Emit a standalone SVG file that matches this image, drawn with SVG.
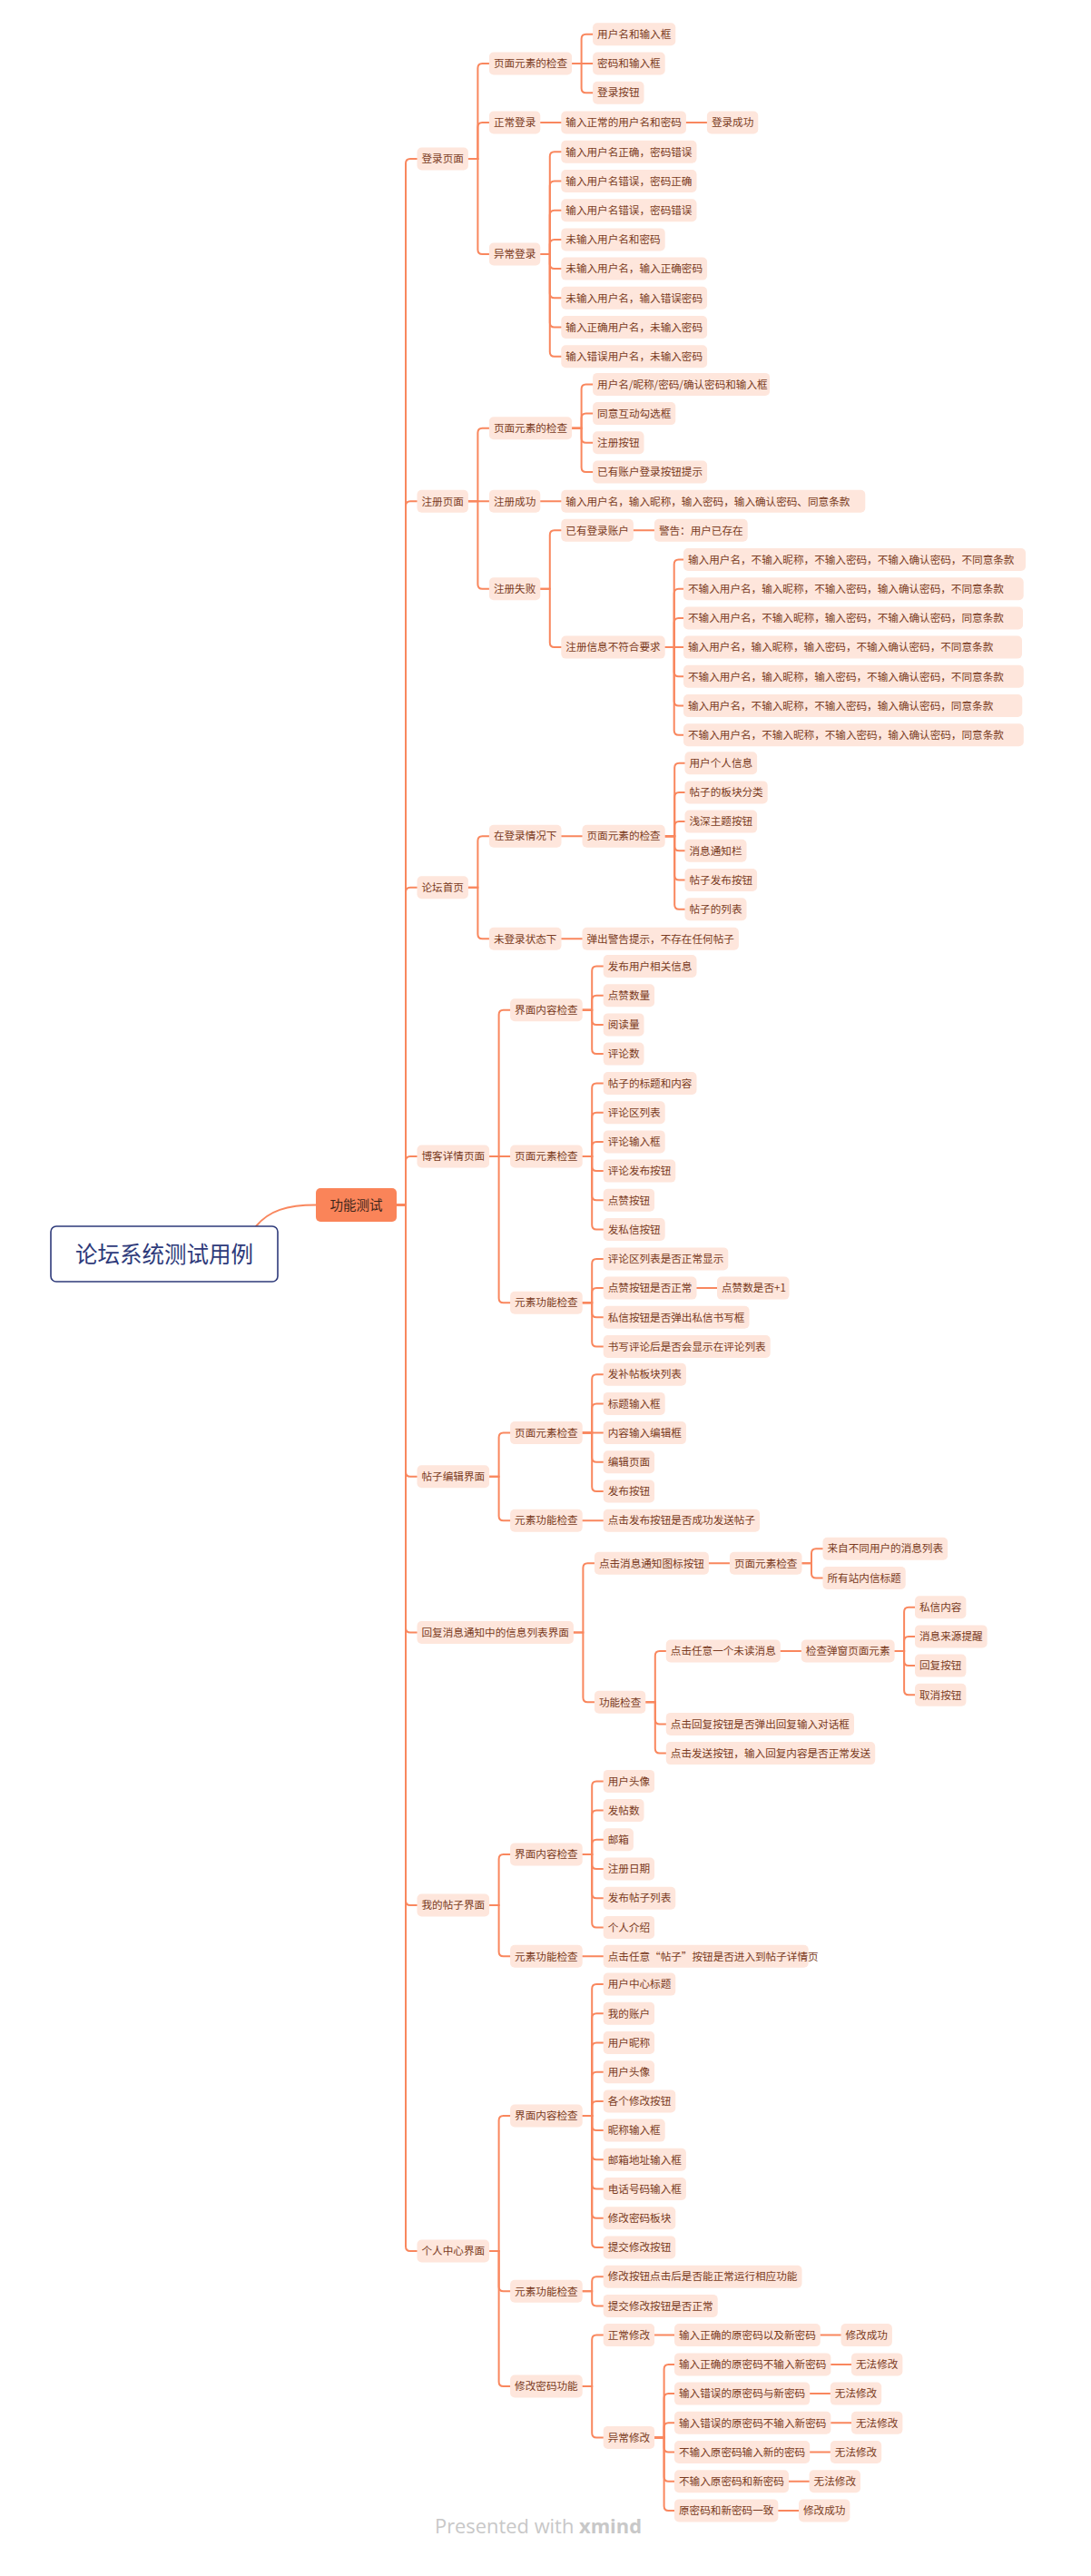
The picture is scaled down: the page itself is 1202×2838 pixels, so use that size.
<svg xmlns="http://www.w3.org/2000/svg" width="1202" height="2838" viewBox="0 0 1202 2838">
<style>
.b{fill:#fee6dc}
.t{font-family:"Noto Sans CJK SC","Noto Sans CJK JP",sans-serif;font-size:11.6px;fill:#7a3b22}
.c path{fill:none;stroke:#f9875e;stroke-width:2;stroke-linecap:round}
</style>
<rect width="1202" height="2838" fill="#ffffff"/>
<g class="c" id="connectors">
<path d="M282 1351C296 1334 316 1327.5 348 1327.5"/>
<path d="M437 1327.5H447V180Q447 175 452 175H459.5"/>
<path d="M437 1327.5H447V557.3Q447 552.3 452 552.3H459.5"/>
<path d="M437 1327.5H447V982.7Q447 977.7 452 977.7H459.5"/>
<path d="M437 1327.5H447V1279Q447 1274 452 1274H459.5"/>
<path d="M437 1327.5H447V1621.7Q447 1626.7 452 1626.7H459.5"/>
<path d="M437 1327.5H447V1793.5Q447 1798.5 452 1798.5H459.5"/>
<path d="M437 1327.5H447V2094Q447 2099 452 2099H459.5"/>
<path d="M437 1327.5H447V2475Q447 2480 452 2480H459.5"/>
<path d="M515.9 175H526.4V75Q526.4 70 531.4 70H538.9"/>
<path d="M515.9 175H526.4V140Q526.4 135 531.4 135H538.9"/>
<path d="M515.9 175H526.4V275Q526.4 280 531.4 280H538.9"/>
<path d="M630.1 70H640.6V42.8Q640.6 37.8 645.6 37.8H653.1"/>
<path d="M630.1 70H653.1"/>
<path d="M630.1 70H640.6V97.2Q640.6 102.2 645.6 102.2H653.1"/>
<path d="M595.3 135H618.3"/>
<path d="M755.9 135H778.9"/>
<path d="M595.3 280H605.8V172.3Q605.8 167.3 610.8 167.3H618.3"/>
<path d="M595.3 280H605.8V204.5Q605.8 199.5 610.8 199.5H618.3"/>
<path d="M595.3 280H605.8V236.7Q605.8 231.7 610.8 231.7H618.3"/>
<path d="M595.3 280H605.8V268.9Q605.8 263.9 610.8 263.9H618.3"/>
<path d="M595.3 280H605.8V291.1Q605.8 296.1 610.8 296.1H618.3"/>
<path d="M595.3 280H605.8V323.3Q605.8 328.3 610.8 328.3H618.3"/>
<path d="M595.3 280H605.8V355.5Q605.8 360.5 610.8 360.5H618.3"/>
<path d="M595.3 280H605.8V387.7Q605.8 392.7 610.8 392.7H618.3"/>
<path d="M515.9 552.3H526.4V476.7Q526.4 471.7 531.4 471.7H538.9"/>
<path d="M515.9 552.3H538.9"/>
<path d="M515.9 552.3H526.4V643.7Q526.4 648.7 531.4 648.7H538.9"/>
<path d="M630.1 471.7H640.6V428.4Q640.6 423.4 645.6 423.4H653.1"/>
<path d="M630.1 471.7H640.6V460.6Q640.6 455.6 645.6 455.6H653.1"/>
<path d="M630.1 471.7H640.6V482.8Q640.6 487.8 645.6 487.8H653.1"/>
<path d="M630.1 471.7H640.6V515Q640.6 520 645.6 520H653.1"/>
<path d="M595.3 552.3H618.3"/>
<path d="M595.3 648.7H605.8V589.3Q605.8 584.3 610.8 584.3H618.3"/>
<path d="M595.3 648.7H605.8V708.1Q605.8 713.1 610.8 713.1H618.3"/>
<path d="M697.9 584.3H720.9"/>
<path d="M732.7 713.1H742.7V621.5Q742.7 616.5 747.7 616.5H753"/>
<path d="M732.7 713.1H742.7V653.7Q742.7 648.7 747.7 648.7H753"/>
<path d="M732.7 713.1H742.7V685.9Q742.7 680.9 747.7 680.9H753"/>
<path d="M732.7 713.1H753"/>
<path d="M732.7 713.1H742.7V740.3Q742.7 745.3 747.7 745.3H753"/>
<path d="M732.7 713.1H742.7V772.5Q742.7 777.5 747.7 777.5H753"/>
<path d="M732.7 713.1H742.7V804.7Q742.7 809.7 747.7 809.7H753"/>
<path d="M515.9 977.7H526.4V926.2Q526.4 921.2 531.4 921.2H538.9"/>
<path d="M515.9 977.7H526.4V1029.3Q526.4 1034.3 531.4 1034.3H538.9"/>
<path d="M618.5 921.2H641.5"/>
<path d="M732.7 921.2H743.2V845.7Q743.2 840.7 748.2 840.7H754.5"/>
<path d="M732.7 921.2H743.2V877.9Q743.2 872.9 748.2 872.9H754.5"/>
<path d="M732.7 921.2H743.2V910.1Q743.2 905.1 748.2 905.1H754.5"/>
<path d="M732.7 921.2H743.2V932.3Q743.2 937.3 748.2 937.3H754.5"/>
<path d="M732.7 921.2H743.2V964.5Q743.2 969.5 748.2 969.5H754.5"/>
<path d="M732.7 921.2H743.2V996.7Q743.2 1001.7 748.2 1001.7H754.5"/>
<path d="M618.5 1034.3H641.5"/>
<path d="M539.1 1274H549.6V1117.8Q549.6 1112.8 554.6 1112.8H562.1"/>
<path d="M539.1 1274H562.1"/>
<path d="M539.1 1274H549.6V1430.2Q549.6 1435.2 554.6 1435.2H562.1"/>
<path d="M641.7 1112.8H652.2V1069.5Q652.2 1064.5 657.2 1064.5H664.7"/>
<path d="M641.7 1112.8H652.2V1101.7Q652.2 1096.7 657.2 1096.7H664.7"/>
<path d="M641.7 1112.8H652.2V1123.9Q652.2 1128.9 657.2 1128.9H664.7"/>
<path d="M641.7 1112.8H652.2V1156.1Q652.2 1161.1 657.2 1161.1H664.7"/>
<path d="M641.7 1274H652.2V1198.5Q652.2 1193.5 657.2 1193.5H664.7"/>
<path d="M641.7 1274H652.2V1230.7Q652.2 1225.7 657.2 1225.7H664.7"/>
<path d="M641.7 1274H652.2V1262.9Q652.2 1257.9 657.2 1257.9H664.7"/>
<path d="M641.7 1274H652.2V1285.1Q652.2 1290.1 657.2 1290.1H664.7"/>
<path d="M641.7 1274H652.2V1317.3Q652.2 1322.3 657.2 1322.3H664.7"/>
<path d="M641.7 1274H652.2V1349.5Q652.2 1354.5 657.2 1354.5H664.7"/>
<path d="M641.7 1435.2H652.2V1391.9Q652.2 1386.9 657.2 1386.9H664.7"/>
<path d="M641.7 1435.2H652.2V1424.1Q652.2 1419.1 657.2 1419.1H664.7"/>
<path d="M641.7 1435.2H652.2V1446.3Q652.2 1451.3 657.2 1451.3H664.7"/>
<path d="M641.7 1435.2H652.2V1478.5Q652.2 1483.5 657.2 1483.5H664.7"/>
<path d="M767.5 1419.1H790"/>
<path d="M539.1 1626.7H549.6V1583.6Q549.6 1578.6 554.6 1578.6H562.1"/>
<path d="M539.1 1626.7H549.6V1670.2Q549.6 1675.2 554.6 1675.2H562.1"/>
<path d="M641.7 1578.6H652.2V1519.2Q652.2 1514.2 657.2 1514.2H664.7"/>
<path d="M641.7 1578.6H652.2V1551.4Q652.2 1546.4 657.2 1546.4H664.7"/>
<path d="M641.7 1578.6H664.7"/>
<path d="M641.7 1578.6H652.2V1605.8Q652.2 1610.8 657.2 1610.8H664.7"/>
<path d="M641.7 1578.6H652.2V1638Q652.2 1643 657.2 1643H664.7"/>
<path d="M641.7 1675.2H664.7"/>
<path d="M631.9 1798.5H642.4V1727.3Q642.4 1722.3 647.4 1722.3H654.9"/>
<path d="M631.9 1798.5H642.4V1870.3Q642.4 1875.3 647.4 1875.3H654.9"/>
<path d="M780.9 1722.3H803.9"/>
<path d="M883.5 1722.3H894V1711.2Q894 1706.2 899 1706.2H906.5"/>
<path d="M883.5 1722.3H894V1733.4Q894 1738.4 899 1738.4H906.5"/>
<path d="M711.3 1875.3H721.8V1824Q721.8 1819 726.8 1819H733.8"/>
<path d="M711.3 1875.3H721.8V1894.4Q721.8 1899.4 726.8 1899.4H733.8"/>
<path d="M711.3 1875.3H721.8V1926.6Q721.8 1931.6 726.8 1931.6H733.8"/>
<path d="M859.8 1819H882.8"/>
<path d="M985.6 1819H996.1V1775.7Q996.1 1770.7 1001.1 1770.7H1008"/>
<path d="M985.6 1819H996.1V1807.9Q996.1 1802.9 1001.1 1802.9H1008"/>
<path d="M985.6 1819H996.1V1830.1Q996.1 1835.1 1001.1 1835.1H1008"/>
<path d="M985.6 1819H996.1V1862.3Q996.1 1867.3 1001.1 1867.3H1008"/>
<path d="M539.1 2099H549.6V2047.9Q549.6 2042.9 554.6 2042.9H562.1"/>
<path d="M539.1 2099H549.6V2150.3Q549.6 2155.3 554.6 2155.3H562.1"/>
<path d="M641.7 2042.9H652.2V1967.4Q652.2 1962.4 657.2 1962.4H664.7"/>
<path d="M641.7 2042.9H652.2V1999.6Q652.2 1994.6 657.2 1994.6H664.7"/>
<path d="M641.7 2042.9H652.2V2031.8Q652.2 2026.8 657.2 2026.8H664.7"/>
<path d="M641.7 2042.9H652.2V2054Q652.2 2059 657.2 2059H664.7"/>
<path d="M641.7 2042.9H652.2V2086.2Q652.2 2091.2 657.2 2091.2H664.7"/>
<path d="M641.7 2042.9H652.2V2118.4Q652.2 2123.4 657.2 2123.4H664.7"/>
<path d="M641.7 2155.3H664.7"/>
<path d="M539.1 2480H549.6V2336Q549.6 2331 554.6 2331H562.1"/>
<path d="M539.1 2480H549.6V2519.3Q549.6 2524.3 554.6 2524.3H562.1"/>
<path d="M539.1 2480H549.6V2624Q549.6 2629 554.6 2629H562.1"/>
<path d="M641.7 2331H652.2V2191.1Q652.2 2186.1 657.2 2186.1H664.7"/>
<path d="M641.7 2331H652.2V2223.3Q652.2 2218.3 657.2 2218.3H664.7"/>
<path d="M641.7 2331H652.2V2255.5Q652.2 2250.5 657.2 2250.5H664.7"/>
<path d="M641.7 2331H652.2V2287.7Q652.2 2282.7 657.2 2282.7H664.7"/>
<path d="M641.7 2331H652.2V2319.9Q652.2 2314.9 657.2 2314.9H664.7"/>
<path d="M641.7 2331H652.2V2342.1Q652.2 2347.1 657.2 2347.1H664.7"/>
<path d="M641.7 2331H652.2V2374.3Q652.2 2379.3 657.2 2379.3H664.7"/>
<path d="M641.7 2331H652.2V2406.5Q652.2 2411.5 657.2 2411.5H664.7"/>
<path d="M641.7 2331H652.2V2438.7Q652.2 2443.7 657.2 2443.7H664.7"/>
<path d="M641.7 2331H652.2V2470.9Q652.2 2475.9 657.2 2475.9H664.7"/>
<path d="M641.7 2524.3H652.2V2513.2Q652.2 2508.2 657.2 2508.2H664.7"/>
<path d="M641.7 2524.3H652.2V2535.4Q652.2 2540.4 657.2 2540.4H664.7"/>
<path d="M641.7 2629H652.2V2577.6Q652.2 2572.6 657.2 2572.6H664.7"/>
<path d="M641.7 2629H652.2V2680.4Q652.2 2685.4 657.2 2685.4H664.7"/>
<path d="M721.1 2572.6H743"/>
<path d="M903.8 2572.6H926.5"/>
<path d="M721.1 2685.4H731.6V2609.9Q731.6 2604.9 736.6 2604.9H743"/>
<path d="M721.1 2685.4H731.6V2642.1Q731.6 2637.1 736.6 2637.1H743"/>
<path d="M721.1 2685.4H731.6V2674.3Q731.6 2669.3 736.6 2669.3H743"/>
<path d="M721.1 2685.4H731.6V2696.5Q731.6 2701.5 736.6 2701.5H743"/>
<path d="M721.1 2685.4H731.6V2728.7Q731.6 2733.7 736.6 2733.7H743"/>
<path d="M721.1 2685.4H731.6V2760.9Q731.6 2765.9 736.6 2765.9H743"/>
<path d="M915.4 2604.9H938"/>
<path d="M892.2 2637.1H914.8"/>
<path d="M915.4 2669.3H938"/>
<path d="M892.2 2701.5H914.8"/>
<path d="M869 2733.7H891.6"/>
<path d="M857.4 2765.9H880"/>
</g>
<g id="root"><rect x="56" y="1351" width="250" height="61" rx="6" fill="#ffffff" stroke="#2e3a7a" stroke-width="1.6"/><text x="181" y="1390.5" text-anchor="middle" font-family="Noto Sans CJK SC,sans-serif" font-size="24.5" fill="#2e3a7a">论坛系统测试用例</text></g>
<g id="func"><rect x="348" y="1309" width="89" height="37" rx="5" fill="#fa8459"/><text x="392.5" y="1332.7" text-anchor="middle" font-family="Noto Sans CJK SC,sans-serif" font-size="14.5" fill="#3d2419">功能测试</text></g>
<g id="nA"><rect class="b" x="459.5" y="162.5" width="56.4" height="25" rx="5"/><text class="t" x="464.5" y="179.2">登录页面</text></g>
<g id="nA1"><rect class="b" x="538.9" y="57.5" width="91.2" height="25" rx="5"/><text class="t" x="543.9" y="74.2">页面元素的检查</text></g>
<g id="nA1a"><rect class="b" x="653.1" y="25.3" width="91.2" height="25" rx="5"/><text class="t" x="658.1" y="42">用户名和输入框</text></g>
<g id="nA1b"><rect class="b" x="653.1" y="57.5" width="79.6" height="25" rx="5"/><text class="t" x="658.1" y="74.2">密码和输入框</text></g>
<g id="nA1c"><rect class="b" x="653.1" y="89.7" width="56.4" height="25" rx="5"/><text class="t" x="658.1" y="106.4">登录按钮</text></g>
<g id="nA2"><rect class="b" x="538.9" y="122.5" width="56.4" height="25" rx="5"/><text class="t" x="543.9" y="139.2">正常登录</text></g>
<g id="nA2a"><rect class="b" x="618.3" y="122.5" width="137.6" height="25" rx="5"/><text class="t" x="623.3" y="139.2">输入正常的用户名和密码</text></g>
<g id="nA2b"><rect class="b" x="778.9" y="122.5" width="56.4" height="25" rx="5"/><text class="t" x="783.9" y="139.2">登录成功</text></g>
<g id="nA3"><rect class="b" x="538.9" y="267.5" width="56.4" height="25" rx="5"/><text class="t" x="543.9" y="284.2">异常登录</text></g>
<g id="nA3a"><rect class="b" x="618.3" y="154.8" width="149.2" height="25" rx="5"/><text class="t" x="623.3" y="171.5">输入用户名正确，密码错误</text></g>
<g id="nA3b"><rect class="b" x="618.3" y="187" width="149.2" height="25" rx="5"/><text class="t" x="623.3" y="203.7">输入用户名错误，密码正确</text></g>
<g id="nA3c"><rect class="b" x="618.3" y="219.2" width="149.2" height="25" rx="5"/><text class="t" x="623.3" y="235.9">输入用户名错误，密码错误</text></g>
<g id="nA3d"><rect class="b" x="618.3" y="251.4" width="114.4" height="25" rx="5"/><text class="t" x="623.3" y="268.1">未输入用户名和密码</text></g>
<g id="nA3e"><rect class="b" x="618.3" y="283.6" width="160.8" height="25" rx="5"/><text class="t" x="623.3" y="300.3">未输入用户名，输入正确密码</text></g>
<g id="nA3f"><rect class="b" x="618.3" y="315.8" width="160.8" height="25" rx="5"/><text class="t" x="623.3" y="332.5">未输入用户名，输入错误密码</text></g>
<g id="nA3g"><rect class="b" x="618.3" y="348" width="160.8" height="25" rx="5"/><text class="t" x="623.3" y="364.7">输入正确用户名，未输入密码</text></g>
<g id="nA3h"><rect class="b" x="618.3" y="380.2" width="160.8" height="25" rx="5"/><text class="t" x="623.3" y="396.9">输入错误用户名，未输入密码</text></g>
<g id="nB"><rect class="b" x="459.5" y="539.8" width="56.4" height="25" rx="5"/><text class="t" x="464.5" y="556.5">注册页面</text></g>
<g id="nB1"><rect class="b" x="538.9" y="459.2" width="91.2" height="25" rx="5"/><text class="t" x="543.9" y="475.9">页面元素的检查</text></g>
<g id="nB1a"><rect class="b" x="653.1" y="410.9" width="195" height="25" rx="5"/><text class="t" x="658.1" y="427.6">用户名/昵称/密码/确认密码和输入框</text></g>
<g id="nB1b"><rect class="b" x="653.1" y="443.1" width="91.2" height="25" rx="5"/><text class="t" x="658.1" y="459.8">同意互动勾选框</text></g>
<g id="nB1c"><rect class="b" x="653.1" y="475.3" width="56.4" height="25" rx="5"/><text class="t" x="658.1" y="492">注册按钮</text></g>
<g id="nB1d"><rect class="b" x="653.1" y="507.5" width="126" height="25" rx="5"/><text class="t" x="658.1" y="524.2">已有账户登录按钮提示</text></g>
<g id="nB2"><rect class="b" x="538.9" y="539.8" width="56.4" height="25" rx="5"/><text class="t" x="543.9" y="556.5">注册成功</text></g>
<g id="nB2a"><rect class="b" x="618.3" y="539.8" width="335" height="25" rx="5"/><text class="t" x="623.3" y="556.5">输入用户名，输入昵称，输入密码，输入确认密码、同意条款</text></g>
<g id="nB3"><rect class="b" x="538.9" y="636.2" width="56.4" height="25" rx="5"/><text class="t" x="543.9" y="652.9">注册失败</text></g>
<g id="nB3a"><rect class="b" x="618.3" y="571.8" width="79.6" height="25" rx="5"/><text class="t" x="623.3" y="588.5">已有登录账户</text></g>
<g id="nB3a1"><rect class="b" x="720.9" y="571.8" width="102.8" height="25" rx="5"/><text class="t" x="725.9" y="588.5">警告：用户已存在</text></g>
<g id="nB3b"><rect class="b" x="618.3" y="700.6" width="114.4" height="25" rx="5"/><text class="t" x="623.3" y="717.3">注册信息不符合要求</text></g>
<g id="nB3b1"><rect class="b" x="753" y="604" width="377" height="25" rx="5"/><text class="t" x="758" y="620.7">输入用户名，不输入昵称，不输入密码，不输入确认密码，不同意条款</text></g>
<g id="nB3b2"><rect class="b" x="753" y="636.2" width="374.7" height="25" rx="5"/><text class="t" x="758" y="652.9">不输入用户名，输入昵称，不输入密码，输入确认密码，不同意条款</text></g>
<g id="nB3b3"><rect class="b" x="753" y="668.4" width="374" height="25" rx="5"/><text class="t" x="758" y="685.1">不输入用户名，不输入昵称，输入密码，不输入确认密码，同意条款</text></g>
<g id="nB3b4"><rect class="b" x="753" y="700.6" width="373" height="25" rx="5"/><text class="t" x="758" y="717.3">输入用户名，输入昵称，输入密码，不输入确认密码，不同意条款</text></g>
<g id="nB3b5"><rect class="b" x="753" y="732.8" width="374.8" height="25" rx="5"/><text class="t" x="758" y="749.5">不输入用户名，输入昵称，输入密码，不输入确认密码，不同意条款</text></g>
<g id="nB3b6"><rect class="b" x="753" y="765" width="373.3" height="25" rx="5"/><text class="t" x="758" y="781.7">输入用户名，不输入昵称，不输入密码，输入确认密码，同意条款</text></g>
<g id="nB3b7"><rect class="b" x="753" y="797.2" width="374.8" height="25" rx="5"/><text class="t" x="758" y="813.9">不输入用户名，不输入昵称，不输入密码，输入确认密码，同意条款</text></g>
<g id="nC"><rect class="b" x="459.5" y="965.2" width="56.4" height="25" rx="5"/><text class="t" x="464.5" y="981.9">论坛首页</text></g>
<g id="nC1"><rect class="b" x="538.9" y="908.7" width="79.6" height="25" rx="5"/><text class="t" x="543.9" y="925.4">在登录情况下</text></g>
<g id="nC1a"><rect class="b" x="641.5" y="908.7" width="91.2" height="25" rx="5"/><text class="t" x="646.5" y="925.4">页面元素的检查</text></g>
<g id="nC1a1"><rect class="b" x="754.5" y="828.2" width="79.6" height="25" rx="5"/><text class="t" x="759.5" y="844.9">用户个人信息</text></g>
<g id="nC1a2"><rect class="b" x="754.5" y="860.4" width="91.2" height="25" rx="5"/><text class="t" x="759.5" y="877.1">帖子的板块分类</text></g>
<g id="nC1a3"><rect class="b" x="754.5" y="892.6" width="79.6" height="25" rx="5"/><text class="t" x="759.5" y="909.3">浅深主题按钮</text></g>
<g id="nC1a4"><rect class="b" x="754.5" y="924.8" width="68" height="25" rx="5"/><text class="t" x="759.5" y="941.5">消息通知栏</text></g>
<g id="nC1a5"><rect class="b" x="754.5" y="957" width="79.6" height="25" rx="5"/><text class="t" x="759.5" y="973.7">帖子发布按钮</text></g>
<g id="nC1a6"><rect class="b" x="754.5" y="989.2" width="68" height="25" rx="5"/><text class="t" x="759.5" y="1005.9">帖子的列表</text></g>
<g id="nC2"><rect class="b" x="538.9" y="1021.8" width="79.6" height="25" rx="5"/><text class="t" x="543.9" y="1038.5">未登录状态下</text></g>
<g id="nC2a"><rect class="b" x="641.5" y="1021.8" width="172.4" height="25" rx="5"/><text class="t" x="646.5" y="1038.5">弹出警告提示，不存在任何帖子</text></g>
<g id="nD"><rect class="b" x="459.5" y="1261.5" width="79.6" height="25" rx="5"/><text class="t" x="464.5" y="1278.2">博客详情页面</text></g>
<g id="nD1"><rect class="b" x="562.1" y="1100.3" width="79.6" height="25" rx="5"/><text class="t" x="567.1" y="1117">界面内容检查</text></g>
<g id="nD1a"><rect class="b" x="664.7" y="1052" width="102.8" height="25" rx="5"/><text class="t" x="669.7" y="1068.7">发布用户相关信息</text></g>
<g id="nD1b"><rect class="b" x="664.7" y="1084.2" width="56.4" height="25" rx="5"/><text class="t" x="669.7" y="1100.9">点赞数量</text></g>
<g id="nD1c"><rect class="b" x="664.7" y="1116.4" width="44.8" height="25" rx="5"/><text class="t" x="669.7" y="1133.1">阅读量</text></g>
<g id="nD1d"><rect class="b" x="664.7" y="1148.6" width="44.8" height="25" rx="5"/><text class="t" x="669.7" y="1165.3">评论数</text></g>
<g id="nD2"><rect class="b" x="562.1" y="1261.5" width="79.6" height="25" rx="5"/><text class="t" x="567.1" y="1278.2">页面元素检查</text></g>
<g id="nD2a"><rect class="b" x="664.7" y="1181" width="102.8" height="25" rx="5"/><text class="t" x="669.7" y="1197.7">帖子的标题和内容</text></g>
<g id="nD2b"><rect class="b" x="664.7" y="1213.2" width="68" height="25" rx="5"/><text class="t" x="669.7" y="1229.9">评论区列表</text></g>
<g id="nD2c"><rect class="b" x="664.7" y="1245.4" width="68" height="25" rx="5"/><text class="t" x="669.7" y="1262.1">评论输入框</text></g>
<g id="nD2d"><rect class="b" x="664.7" y="1277.6" width="79.6" height="25" rx="5"/><text class="t" x="669.7" y="1294.3">评论发布按钮</text></g>
<g id="nD2e"><rect class="b" x="664.7" y="1309.8" width="56.4" height="25" rx="5"/><text class="t" x="669.7" y="1326.5">点赞按钮</text></g>
<g id="nD2f"><rect class="b" x="664.7" y="1342" width="68" height="25" rx="5"/><text class="t" x="669.7" y="1358.7">发私信按钮</text></g>
<g id="nD3"><rect class="b" x="562.1" y="1422.7" width="79.6" height="25" rx="5"/><text class="t" x="567.1" y="1439.4">元素功能检查</text></g>
<g id="nD3a"><rect class="b" x="664.7" y="1374.4" width="137.6" height="25" rx="5"/><text class="t" x="669.7" y="1391.1">评论区列表是否正常显示</text></g>
<g id="nD3b"><rect class="b" x="664.7" y="1406.6" width="102.8" height="25" rx="5"/><text class="t" x="669.7" y="1423.3">点赞按钮是否正常</text></g>
<g id="nD3b1"><rect class="b" x="790" y="1406.6" width="79.5" height="25" rx="5"/><text class="t" x="795" y="1423.3">点赞数是否+1</text></g>
<g id="nD3c"><rect class="b" x="664.7" y="1438.8" width="160.8" height="25" rx="5"/><text class="t" x="669.7" y="1455.5">私信按钮是否弹出私信书写框</text></g>
<g id="nD3d"><rect class="b" x="664.7" y="1471" width="184" height="25" rx="5"/><text class="t" x="669.7" y="1487.7">书写评论后是否会显示在评论列表</text></g>
<g id="nE"><rect class="b" x="459.5" y="1614.2" width="79.6" height="25" rx="5"/><text class="t" x="464.5" y="1630.9">帖子编辑界面</text></g>
<g id="nE1"><rect class="b" x="562.1" y="1566.1" width="79.6" height="25" rx="5"/><text class="t" x="567.1" y="1582.8">页面元素检查</text></g>
<g id="nE1a"><rect class="b" x="664.7" y="1501.7" width="91.2" height="25" rx="5"/><text class="t" x="669.7" y="1518.4">发补帖板块列表</text></g>
<g id="nE1b"><rect class="b" x="664.7" y="1533.9" width="68" height="25" rx="5"/><text class="t" x="669.7" y="1550.6">标题输入框</text></g>
<g id="nE1c"><rect class="b" x="664.7" y="1566.1" width="91.2" height="25" rx="5"/><text class="t" x="669.7" y="1582.8">内容输入编辑框</text></g>
<g id="nE1d"><rect class="b" x="664.7" y="1598.3" width="56.4" height="25" rx="5"/><text class="t" x="669.7" y="1615">编辑页面</text></g>
<g id="nE1e"><rect class="b" x="664.7" y="1630.5" width="56.4" height="25" rx="5"/><text class="t" x="669.7" y="1647.2">发布按钮</text></g>
<g id="nE2"><rect class="b" x="562.1" y="1662.7" width="79.6" height="25" rx="5"/><text class="t" x="567.1" y="1679.4">元素功能检查</text></g>
<g id="nE2a"><rect class="b" x="664.7" y="1662.7" width="172.4" height="25" rx="5"/><text class="t" x="669.7" y="1679.4">点击发布按钮是否成功发送帖子</text></g>
<g id="nG"><rect class="b" x="459.5" y="1786" width="172.4" height="25" rx="5"/><text class="t" x="464.5" y="1802.7">回复消息通知中的信息列表界面</text></g>
<g id="nG1"><rect class="b" x="654.9" y="1709.8" width="126" height="25" rx="5"/><text class="t" x="659.9" y="1726.5">点击消息通知图标按钮</text></g>
<g id="nG1a"><rect class="b" x="803.9" y="1709.8" width="79.6" height="25" rx="5"/><text class="t" x="808.9" y="1726.5">页面元素检查</text></g>
<g id="nG1a1"><rect class="b" x="906.5" y="1693.7" width="137.6" height="25" rx="5"/><text class="t" x="911.5" y="1710.4">来自不同用户的消息列表</text></g>
<g id="nG1a2"><rect class="b" x="906.5" y="1725.9" width="91.2" height="25" rx="5"/><text class="t" x="911.5" y="1742.6">所有站内信标题</text></g>
<g id="nG2"><rect class="b" x="654.9" y="1862.8" width="56.4" height="25" rx="5"/><text class="t" x="659.9" y="1879.5">功能检查</text></g>
<g id="nG2a"><rect class="b" x="733.8" y="1806.5" width="126" height="25" rx="5"/><text class="t" x="738.8" y="1823.2">点击任意一个未读消息</text></g>
<g id="nG2a1"><rect class="b" x="882.8" y="1806.5" width="102.8" height="25" rx="5"/><text class="t" x="887.8" y="1823.2">检查弹窗页面元素</text></g>
<g id="nG2a1a"><rect class="b" x="1008" y="1758.2" width="56.4" height="25" rx="5"/><text class="t" x="1013" y="1774.9">私信内容</text></g>
<g id="nG2a1b"><rect class="b" x="1008" y="1790.4" width="79.6" height="25" rx="5"/><text class="t" x="1013" y="1807.1">消息来源提醒</text></g>
<g id="nG2a1c"><rect class="b" x="1008" y="1822.6" width="56.4" height="25" rx="5"/><text class="t" x="1013" y="1839.3">回复按钮</text></g>
<g id="nG2a1d"><rect class="b" x="1008" y="1854.8" width="56.4" height="25" rx="5"/><text class="t" x="1013" y="1871.5">取消按钮</text></g>
<g id="nG2b"><rect class="b" x="733.8" y="1886.9" width="207.2" height="25" rx="5"/><text class="t" x="738.8" y="1903.6">点击回复按钮是否弹出回复输入对话框</text></g>
<g id="nG2c"><rect class="b" x="733.8" y="1919.1" width="230.4" height="25" rx="5"/><text class="t" x="738.8" y="1935.8">点击发送按钮，输入回复内容是否正常发送</text></g>
<g id="nH"><rect class="b" x="459.5" y="2086.5" width="79.6" height="25" rx="5"/><text class="t" x="464.5" y="2103.2">我的帖子界面</text></g>
<g id="nH1"><rect class="b" x="562.1" y="2030.4" width="79.6" height="25" rx="5"/><text class="t" x="567.1" y="2047.1">界面内容检查</text></g>
<g id="nH1a"><rect class="b" x="664.7" y="1949.9" width="56.4" height="25" rx="5"/><text class="t" x="669.7" y="1966.6">用户头像</text></g>
<g id="nH1b"><rect class="b" x="664.7" y="1982.1" width="44.8" height="25" rx="5"/><text class="t" x="669.7" y="1998.8">发帖数</text></g>
<g id="nH1c"><rect class="b" x="664.7" y="2014.3" width="33.2" height="25" rx="5"/><text class="t" x="669.7" y="2031">邮箱</text></g>
<g id="nH1d"><rect class="b" x="664.7" y="2046.5" width="56.4" height="25" rx="5"/><text class="t" x="669.7" y="2063.2">注册日期</text></g>
<g id="nH1e"><rect class="b" x="664.7" y="2078.7" width="79.6" height="25" rx="5"/><text class="t" x="669.7" y="2095.4">发布帖子列表</text></g>
<g id="nH1f"><rect class="b" x="664.7" y="2110.9" width="56.4" height="25" rx="5"/><text class="t" x="669.7" y="2127.6">个人介绍</text></g>
<g id="nH2"><rect class="b" x="562.1" y="2142.8" width="79.6" height="25" rx="5"/><text class="t" x="567.1" y="2159.5">元素功能检查</text></g>
<g id="nH2a"><rect class="b" x="664.7" y="2142.8" width="226" height="25" rx="5"/><text class="t" x="669.7" y="2159.5">点击任意“帖子”按钮是否进入到帖子详情页</text></g>
<g id="nI"><rect class="b" x="459.5" y="2467.5" width="79.6" height="25" rx="5"/><text class="t" x="464.5" y="2484.2">个人中心界面</text></g>
<g id="nI1"><rect class="b" x="562.1" y="2318.5" width="79.6" height="25" rx="5"/><text class="t" x="567.1" y="2335.2">界面内容检查</text></g>
<g id="nI1a"><rect class="b" x="664.7" y="2173.6" width="79.6" height="25" rx="5"/><text class="t" x="669.7" y="2190.3">用户中心标题</text></g>
<g id="nI1b"><rect class="b" x="664.7" y="2205.8" width="56.4" height="25" rx="5"/><text class="t" x="669.7" y="2222.5">我的账户</text></g>
<g id="nI1c"><rect class="b" x="664.7" y="2238" width="56.4" height="25" rx="5"/><text class="t" x="669.7" y="2254.7">用户昵称</text></g>
<g id="nI1d"><rect class="b" x="664.7" y="2270.2" width="56.4" height="25" rx="5"/><text class="t" x="669.7" y="2286.9">用户头像</text></g>
<g id="nI1e"><rect class="b" x="664.7" y="2302.4" width="79.6" height="25" rx="5"/><text class="t" x="669.7" y="2319.1">各个修改按钮</text></g>
<g id="nI1f"><rect class="b" x="664.7" y="2334.6" width="68" height="25" rx="5"/><text class="t" x="669.7" y="2351.3">昵称输入框</text></g>
<g id="nI1g"><rect class="b" x="664.7" y="2366.8" width="91.2" height="25" rx="5"/><text class="t" x="669.7" y="2383.5">邮箱地址输入框</text></g>
<g id="nI1h"><rect class="b" x="664.7" y="2399" width="91.2" height="25" rx="5"/><text class="t" x="669.7" y="2415.7">电话号码输入框</text></g>
<g id="nI1i"><rect class="b" x="664.7" y="2431.2" width="79.6" height="25" rx="5"/><text class="t" x="669.7" y="2447.9">修改密码板块</text></g>
<g id="nI1j"><rect class="b" x="664.7" y="2463.4" width="79.6" height="25" rx="5"/><text class="t" x="669.7" y="2480.1">提交修改按钮</text></g>
<g id="nI2"><rect class="b" x="562.1" y="2511.8" width="79.6" height="25" rx="5"/><text class="t" x="567.1" y="2528.5">元素功能检查</text></g>
<g id="nI2a"><rect class="b" x="664.7" y="2495.7" width="218.8" height="25" rx="5"/><text class="t" x="669.7" y="2512.4">修改按钮点击后是否能正常运行相应功能</text></g>
<g id="nI2b"><rect class="b" x="664.7" y="2527.9" width="126" height="25" rx="5"/><text class="t" x="669.7" y="2544.6">提交修改按钮是否正常</text></g>
<g id="nI3"><rect class="b" x="562.1" y="2616.5" width="79.6" height="25" rx="5"/><text class="t" x="567.1" y="2633.2">修改密码功能</text></g>
<g id="nI3a"><rect class="b" x="664.7" y="2560.1" width="56.4" height="25" rx="5"/><text class="t" x="669.7" y="2576.8">正常修改</text></g>
<g id="nI3a1"><rect class="b" x="743" y="2560.1" width="160.8" height="25" rx="5"/><text class="t" x="748" y="2576.8">输入正确的原密码以及新密码</text></g>
<g id="nI3a2"><rect class="b" x="926.5" y="2560.1" width="56.4" height="25" rx="5"/><text class="t" x="931.5" y="2576.8">修改成功</text></g>
<g id="nI3b"><rect class="b" x="664.7" y="2672.9" width="56.4" height="25" rx="5"/><text class="t" x="669.7" y="2689.6">异常修改</text></g>
<g id="nI3b1"><rect class="b" x="743" y="2592.4" width="172.4" height="25" rx="5"/><text class="t" x="748" y="2609.1">输入正确的原密码不输入新密码</text></g>
<g id="nI3b1r"><rect class="b" x="938" y="2592.4" width="56.4" height="25" rx="5"/><text class="t" x="943" y="2609.1">无法修改</text></g>
<g id="nI3b2"><rect class="b" x="743" y="2624.6" width="149.2" height="25" rx="5"/><text class="t" x="748" y="2641.3">输入错误的原密码与新密码</text></g>
<g id="nI3b2r"><rect class="b" x="914.8" y="2624.6" width="56.4" height="25" rx="5"/><text class="t" x="919.8" y="2641.3">无法修改</text></g>
<g id="nI3b3"><rect class="b" x="743" y="2656.8" width="172.4" height="25" rx="5"/><text class="t" x="748" y="2673.5">输入错误的原密码不输入新密码</text></g>
<g id="nI3b3r"><rect class="b" x="938" y="2656.8" width="56.4" height="25" rx="5"/><text class="t" x="943" y="2673.5">无法修改</text></g>
<g id="nI3b4"><rect class="b" x="743" y="2689" width="149.2" height="25" rx="5"/><text class="t" x="748" y="2705.7">不输入原密码输入新的密码</text></g>
<g id="nI3b4r"><rect class="b" x="914.8" y="2689" width="56.4" height="25" rx="5"/><text class="t" x="919.8" y="2705.7">无法修改</text></g>
<g id="nI3b5"><rect class="b" x="743" y="2721.2" width="126" height="25" rx="5"/><text class="t" x="748" y="2737.9">不输入原密码和新密码</text></g>
<g id="nI3b5r"><rect class="b" x="891.6" y="2721.2" width="56.4" height="25" rx="5"/><text class="t" x="896.6" y="2737.9">无法修改</text></g>
<g id="nI3b6"><rect class="b" x="743" y="2753.4" width="114.4" height="25" rx="5"/><text class="t" x="748" y="2770.1">原密码和新密码一致</text></g>
<g id="nI3b6r"><rect class="b" x="880" y="2753.4" width="56.4" height="25" rx="5"/><text class="t" x="885" y="2770.1">修改成功</text></g>
<text x="479" y="2791" font-family="Open Sans,sans-serif" font-size="22" fill="#c8c8c8" textLength="228" lengthAdjust="spacingAndGlyphs">Presented with <tspan font-weight="bold">xmind</tspan></text>
</svg>
